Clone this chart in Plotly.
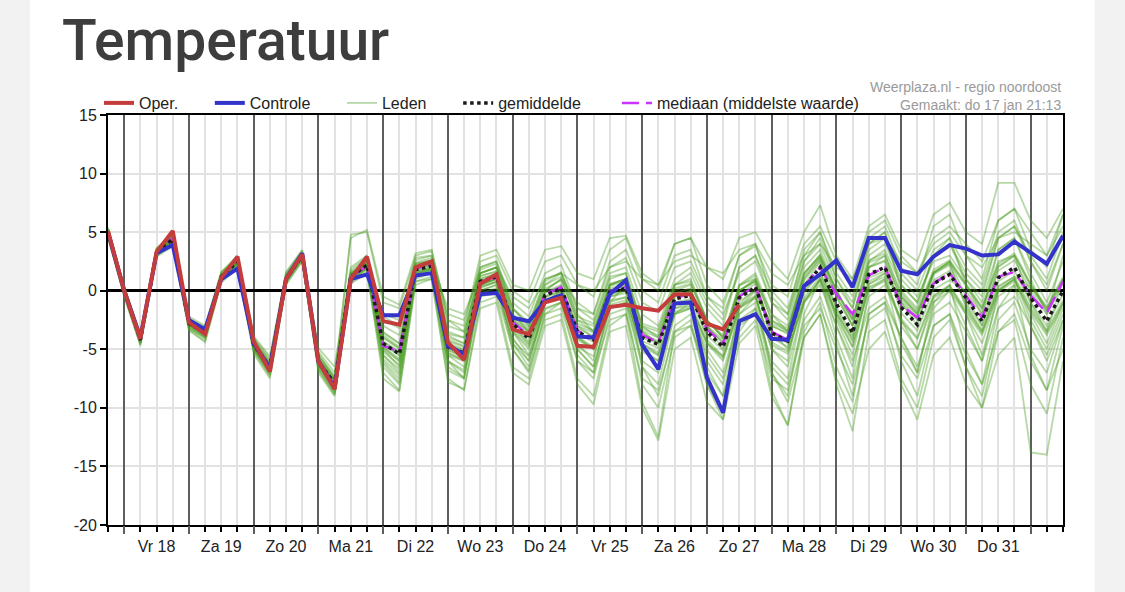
import plotly.graph_objects as go
import pandas as pd

# ---------------- data ----------------
times = pd.date_range("2019-01-17 18:00", periods=60, freq="6h")
x_start = "2019-01-17 18:00"
x_end = "2019-02-01 12:00"

day_ticks = ["2019-01-18 12:00", "2019-01-19 12:00", "2019-01-20 12:00", "2019-01-21 12:00",
             "2019-01-22 12:00", "2019-01-23 12:00", "2019-01-24 12:00", "2019-01-25 12:00",
             "2019-01-26 12:00", "2019-01-27 12:00", "2019-01-28 12:00", "2019-01-29 12:00",
             "2019-01-30 12:00", "2019-01-31 12:00"]
day_labels = ["Vr 18", "Za 19", "Zo 20", "Ma 21", "Di 22", "Wo 23", "Do 24",
              "Vr 25", "Za 26", "Zo 27", "Ma 28", "Di 29", "Wo 30", "Do 31"]

y_ticks = [-20, -15, -10, -5, 0, 5, 10, 15]
y_labels = ["-20", "-15", "-10", "-5", "0", "5", "10", "15"]

oper = [5.1, 0.0, -4.1, 3.3, 5.1, -2.7, -3.7, 1.1, 2.9, -4.3, -6.9, 1.0, 3.1, -6.0, -8.4, 1.0,
        2.9, -2.6, -2.9, 2.0, 2.5, -4.4, -5.9, 0.6, 1.4, -3.3, -3.7, -1.0, -0.6, -4.7, -4.8,
        -1.4, -1.2, -1.5, -1.7, -0.3, -0.3, -2.8, -3.3, -1.2]

controle = [5.0, 0.0, -4.0, 3.2, 3.9, -2.5, -3.3, 1.0, 1.9, -4.5, -6.6, 1.0, 3.2, -6.0, -8.3, 1.0,
            1.4, -2.1, -2.1, 1.3, 1.5, -4.7, -5.4, -0.3, -0.2, -2.3, -2.6, -0.9, -0.4, -3.9, -4.0,
            -0.3, 0.9, -4.6, -6.7, -1.1, -1.0, -7.4, -10.4, -2.6, -2.0, -4.1, -4.2, 0.4, 1.4, 2.6,
            0.3, 4.5, 4.5, 1.7, 1.4, 2.9, 3.9, 3.6, 3.0, 3.1, 4.2, 3.3, 2.3, 4.7]

gemiddelde = [5.0, 0.0, -4.2, 3.3, 4.4, -2.8, -3.6, 1.2, 2.5, -4.6, -6.5, 1.0, 3.0, -6.1, -7.9, 1.2,
              2.2, -4.5, -5.4, 1.8, 2.1, -4.8, -5.3, 0.8, 1.2, -2.8, -4.1, -0.4, 0.2, -3.5, -4.2,
              -0.1, 0.2, -4.0, -4.6, -0.7, -0.4, -3.5, -4.8, -0.6, 0.3, -3.6, -4.3, 0.3, 2.0, -1.1,
              -3.6, 1.4, 2.0, -1.4, -2.9, 0.6, 1.4, -0.6, -2.6, 1.1, 2.0, -0.6, -2.6, 0.0]

mediaan = [5.0, 0.0, -4.2, 3.3, 4.5, -2.8, -3.6, 1.2, 2.6, -4.6, -6.6, 1.0, 3.0, -6.2, -8.0, 1.2,
           2.1, -4.7, -5.2, 1.9, 2.2, -4.9, -5.4, 0.8, 1.1, -2.7, -3.8, -0.3, 0.3, -3.4, -4.1,
           0.0, 0.3, -3.8, -4.4, -0.6, -0.3, -3.3, -4.5, -0.5, 0.4, -3.5, -4.2, 0.4, 2.0, -0.3,
           -2.0, 1.3, 2.0, -1.2, -2.3, 0.6, 1.5, -0.4, -2.3, 1.2, 1.6, -0.4, -1.9, 0.8]

leden = [
    [5.2, 0.3, -3.8, 3.6, 4.8, -2.5, -3.2, 1.5, 2.9, -4.1, -6.0, 1.4, 3.3, -5.4, -7.4, 1.6, 2.8,
     -2.2, -3.0, 2.6, 3.0, -3.5, -4.0, 2.0, 2.5, -1.0, -2.2, 1.5, 2.2, -1.5, -2.0, 2.0, 2.8,
     -1.0, -1.8, 2.0, 2.5, -0.5, -1.5, 3.0, 3.8, 0.5, -0.5, 4.0, 5.5, 2.5, 0.5, 5.0, 6.0,
     3.0, 1.5, 4.5, 5.5, 4.0, 2.5, 6.0, 7.0, 5.0, 3.0, 6.5],
    [4.6, -0.4, -4.6, 3.0, 3.9, -3.3, -4.3, 0.8, 2.0, -5.2, -7.3, 0.6, 2.6, -6.8, -8.9, 0.7, 1.6,
     -6.2, -7.8, 0.8, 1.2, -6.5, -7.4, -0.5, -0.2, -5.0, -6.8, -2.0, -1.5, -6.0, -7.0, -2.5, -2.0,
     -7.5, -8.5, -3.5, -3.0, -7.0, -9.0, -4.0, -2.5, -7.5, -8.5, -3.0, -1.5, -5.0, -8.0, -2.5, -1.5,
     -5.5, -7.5, -3.0, -2.0, -5.5, -8.0, -3.5, -2.0, -6.0, -8.5, -5.0],
    [5.0, 0.1, -4.0, 3.4, 4.5, -2.6, -3.4, 1.3, 2.6, -4.4, -6.4, 1.2, 3.2, -5.8, -7.7, 1.4, 2.4,
     -4.0, -5.0, 2.2, 2.6, -4.0, -4.5, 1.5, 2.0, -2.0, -3.2, 0.5, 1.2, -2.5, -3.0, 1.0, 1.5,
     -3.0, -3.5, 0.5, 1.0, -2.5, -4.0, 0.0, 0.8, -3.5, -5.0, -1.0, 0.5, -3.0, -6.0, -1.5, -0.5,
     -4.0, -6.5, -2.0, -1.0, -3.5, -6.0, -1.5, -0.5, -3.0, -5.5, -2.0],
    [4.8, -0.2, -4.5, 3.1, 4.1, -3.2, -4.0, 1.0, 2.3, -5.0, -7.0, 0.9, 2.8, -6.5, -8.6, 1.0, 2.0,
     -5.5, -7.0, 1.5, 1.8, -6.0, -7.5, 0.5, 1.0, -4.0, -6.0, -1.0, 0.0, -5.5, -7.0, -1.0, 0.5,
     -6.5, -8.0, -2.0, -1.0, -6.0, -8.0, -1.5, 0.0, -7.0, -9.0, -2.0, 1.0, -4.0, -7.5, 0.0, 1.0,
     -4.5, -7.0, -1.0, 0.5, -5.0, -8.0, -1.5, 0.5, -5.5, -8.5, -3.0],
    [5.3, 0.2, -3.9, 3.5, 4.6, -2.7, -3.5, 1.4, 2.7, -4.3, -6.2, 1.2, 3.1, -5.6, -7.5, 1.5, 2.6,
     -3.0, -3.8, 2.4, 2.8, -3.0, -3.5, 2.5, 3.0, 0.0, -1.0, 2.5, 3.0, 0.5, -0.5, 3.5, 4.5,
     1.0, 0.0, 4.0, 4.5, 2.0, 1.0, 4.5, 5.0, 2.5, 1.0, 5.0, 7.3, 3.0, 1.0, 5.5, 6.5,
     3.5, 2.5, 6.5, 7.5, 5.0, 4.0, 9.2, 9.2, 6.0, 4.5, 7.0],
    [4.7, -0.3, -4.4, 3.2, 4.0, -3.0, -3.9, 1.1, 2.4, -4.9, -6.9, 0.8, 2.9, -6.3, -8.4, 1.1, 2.1,
     -5.8, -7.2, 1.0, 1.5, -5.5, -6.5, 0.0, 0.5, -4.5, -6.0, -1.5, -1.0, -6.0, -7.5, -2.0, -1.5,
     -8.0, -10.0, -4.0, -3.0, -8.0, -10.5, -3.5, -1.5, -6.0, -7.5, -1.0, 1.0, -2.0, -4.0, 2.5, 3.5,
     0.5, -1.0, 3.0, 4.0, 1.5, 0.0, 4.5, 5.5, 2.5, 0.5, 4.0],
    [5.1, 0.0, -4.1, 3.3, 4.4, -2.8, -3.7, 1.2, 2.5, -4.7, -6.6, 1.1, 3.0, -5.9, -7.8, 4.8, 5.0,
     -1.0, -1.5, 2.8, 3.0, -2.0, -2.5, 2.0, 2.5, -1.5, -3.0, 0.5, 1.5, -2.0, -3.5, 0.5, 1.0,
     -3.5, -4.5, -0.5, 0.0, -3.0, -5.0, 0.5, 1.0, -2.0, -3.0, 2.0, 3.5, 0.0, -2.5, 3.0, 4.0,
     1.0, -0.5, 2.5, 3.0, 1.0, -1.0, 3.5, 4.5, 1.5, -1.0, 2.5],
    [4.9, -0.1, -4.3, 3.2, 4.2, -2.9, -3.7, 1.1, 2.4, -4.6, -6.7, 0.9, 2.9, -6.1, -8.1, 1.1, 2.1,
     -4.8, -6.0, 1.6, 2.0, -5.0, -5.8, 0.5, 1.0, -3.0, -4.5, -0.5, 0.0, -4.0, -5.0, -1.0, -0.5,
     -5.0, -6.0, -2.0, -1.5, -5.5, -7.5, -2.5, -1.5, -7.0, -9.5, -4.0, -2.0, -7.5, -10.5, -5.0, -3.5,
     -8.0, -11.0, -5.5, -4.0, -8.0, -10.0, -5.5, -4.0, -13.8, -14.0, -6.0],
    [5.2, 0.4, -3.7, 3.5, 4.7, -2.2, -3.0, 1.6, 2.8, -3.9, -5.6, 1.5, 3.4, -4.9, -6.5, 1.8, 2.9,
     -2.0, -2.5, 2.0, 2.3, -1.5, -2.0, 1.5, 2.0, -0.5, -1.5, 1.0, 1.5, 0.5, 0.0, 2.0, 2.5,
     1.0, 0.5, 2.5, 3.0, 2.0, 1.5, 3.5, 4.0, 1.5, 0.5, 3.0, 4.0, 2.0, 1.0, 4.0, 4.5,
     2.5, 1.5, 4.0, 5.0, 3.0, 2.0, 4.5, 5.0, 4.0, 3.0, 5.5],
    [4.5, -0.5, -4.7, 2.9, 3.8, -3.4, -4.4, 0.7, 1.9, -5.4, -7.5, 0.5, 2.5, -7.0, -9.0, 0.6, 1.5,
     -7.0, -8.5, 0.5, 1.0, -7.5, -8.5, -1.0, -0.5, -6.5, -7.5, -2.5, -2.0, -7.5, -9.0, -3.0, -2.0,
     -9.5, -12.5, -3.5, -2.5, -8.0, -11.0, -3.0, -2.0, -8.5, -11.5, -3.5, -1.0, -6.5, -9.5, -2.0, -1.0,
     -4.0, -7.0, -1.5, 0.0, -3.0, -6.0, 0.0, 1.0, -2.0, -4.5, -1.0],
    [5.0, 0.0, -4.2, 3.3, 4.3, -2.8, -3.6, 1.2, 2.5, -4.5, -6.5, 1.0, 3.0, -6.0, -8.0, 1.2, 2.3,
     -4.5, -5.5, 1.8, 2.1, -4.8, -5.3, 0.8, 1.2, -2.5, -4.0, -0.5, 0.3, -3.0, -4.0, 0.0, 0.5,
     -3.5, -4.5, -0.5, 0.0, -3.0, -4.5, 0.0, 1.0, -2.5, -3.5, 1.5, 3.0, 0.0, -3.0, 2.0, 2.5,
     -0.5, -2.0, 1.5, 2.5, 0.5, -1.5, 2.5, 3.0, 0.5, -1.5, 1.0],
    [4.8, -0.2, -4.4, 3.2, 4.2, -3.0, -3.9, 1.0, 2.2, -5.0, -7.2, 0.8, 2.8, -6.6, -8.7, 0.9, 1.9,
     -6.5, -8.0, 1.2, 1.6, -6.8, -7.5, 0.2, 0.8, -4.5, -6.5, -1.0, 0.0, -4.5, -6.0, 0.5, 1.0,
     -4.0, -4.5, 0.5, 1.5, -1.5, -3.0, 2.0, 3.0, -1.0, -2.0, 3.5, 5.0, 1.0, -1.5, 4.0, 5.0,
     1.5, 0.0, 3.5, 4.5, 2.0, 0.5, 5.0, 6.0, 2.5, 0.0, 4.0],
    [5.4, 0.3, -3.8, 3.6, 4.9, -2.4, -3.1, 1.6, 3.0, -4.0, -5.8, 1.6, 3.5, -5.2, -7.0, 2.0, 3.0,
     -2.5, -3.2, 3.0, 3.4, -2.5, -3.0, 3.0, 3.5, 0.5, 0.0, 3.5, 3.8, 1.5, 1.0, 4.5, 4.7,
     1.5, 0.5, 4.0, 4.5, 0.5, -1.0, 3.0, 4.0, -0.5, -2.0, 2.5, 4.0, 0.5, -1.5, 3.5, 4.5,
     0.5, -1.0, 3.0, 4.0, 1.0, -0.5, 4.5, 5.5, 3.0, 1.0, 5.0],
    [4.7, -0.2, -4.3, 3.1, 4.0, -3.1, -4.0, 0.9, 2.2, -4.9, -6.9, 0.8, 2.7, -6.4, -8.4, 1.0, 2.0,
     -5.0, -6.5, 1.4, 1.8, -5.5, -6.0, 0.5, 1.0, -3.5, -5.5, -1.0, -0.5, -5.0, -6.5, -1.5, -1.0,
     -6.0, -7.0, -2.0, -1.5, -5.0, -7.0, -2.0, -1.0, -6.5, -8.0, -2.5, -0.5, -4.5, -9.0, -2.0, -1.0,
     -6.0, -9.0, -3.0, -2.0, -6.5, -10.0, -3.5, -2.5, -8.0, -10.5, -4.0],
    [5.1, 0.1, -4.0, 3.4, 4.5, -2.6, -3.4, 1.3, 2.6, -4.3, -6.3, 1.3, 3.2, -5.7, -7.6, 1.4, 2.5,
     -3.5, -4.5, 2.3, 2.6, -3.8, -4.5, 1.5, 2.0, -1.5, -3.0, 1.0, 1.5, -1.5, -2.5, 1.5, 2.0,
     -2.0, -3.0, 1.0, 2.0, -1.0, -2.5, 2.0, 3.0, 0.0, -1.5, 3.0, 5.0, 1.5, -0.5, 4.5, 5.5,
     2.0, 0.5, 5.5, 6.5, 3.0, 1.0, 6.0, 7.0, 3.5, 2.0, 6.5],
    [4.9, 0.0, -4.2, 3.3, 4.3, -2.9, -3.8, 1.1, 2.4, -4.8, -6.8, 1.0, 2.9, -6.2, -8.3, 1.1, 2.2,
     -6.0, -7.5, 1.3, 1.7, -6.0, -7.0, 0.0, 0.5, -5.0, -7.0, -2.0, -1.0, -5.0, -6.5, -1.5, -1.0,
     -6.5, -9.0, -3.0, -2.0, -6.5, -9.0, -2.0, -0.5, -5.0, -6.0, 0.5, 2.5, -2.5, -5.5, 0.5, 1.5,
     -3.0, -5.0, -0.5, 0.5, -2.0, -4.5, 0.0, 1.0, -2.5, -5.0, -1.5],
    [4.6, -0.4, -4.5, 3.0, 4.0, -3.2, -4.1, 0.9, 2.1, -5.1, -7.1, 0.7, 2.7, -6.7, -8.8, 0.8, 1.8,
     -7.5, -8.6, 0.8, 1.0, -7.8, -8.4, -1.5, -1.0, -7.0, -8.0, -3.0, -2.5, -8.0, -9.7, -3.5, -3.0,
     -10.0, -12.8, -5.0, -4.0, -9.5, -11.0, -4.5, -3.0, -9.0, -11.5, -4.0, -2.0, -8.0, -12.0, -3.5, -2.5,
     -7.5, -10.0, -4.0, -2.5, -6.5, -9.0, -2.5, -1.0, -5.0, -7.0, -2.5],
    [5.0, 0.1, -4.1, 3.4, 4.4, -2.7, -3.5, 1.3, 2.6, -4.5, -6.5, 1.1, 3.1, -5.9, -7.9, 1.3, 2.4,
     -3.8, -4.8, 2.0, 2.4, -4.5, -5.0, 1.0, 1.5, -2.5, -3.5, 0.0, 1.0, -2.5, -3.5, 0.5, 1.0,
     -3.0, -4.0, 0.0, 0.5, -2.5, -4.0, 0.5, 1.5, -2.0, -3.5, 1.5, 3.0, -0.5, -3.0, 2.0, 3.0,
     -1.0, -3.0, 1.5, 2.5, -0.5, -3.0, 2.0, 3.0, -1.0, -3.5, 1.0],
    [4.8, -0.1, -4.3, 3.2, 4.2, -2.9, -3.8, 1.1, 2.4, -4.7, -6.8, 0.9, 2.9, -6.2, -8.2, 1.1, 2.1,
     -5.2, -6.3, 1.5, 1.9, -5.3, -6.0, 0.3, 0.8, -3.5, -5.0, -1.0, -0.5, -4.0, -5.0, -0.5, 0.0,
     -4.5, -5.5, -1.5, -1.0, -4.5, -6.0, -1.5, -0.5, -5.0, -6.5, -1.0, 1.0, -3.0, -6.5, -0.5, 0.5,
     -2.5, -5.0, -1.0, 0.0, -2.0, -5.5, -0.5, 0.5, -3.0, -6.0, -2.5],
    [5.3, 0.2, -3.9, 3.6, 4.7, -2.5, -3.3, 1.4, 2.8, -4.2, -6.1, 1.3, 3.2, -5.5, -7.3, 4.5, 5.2,
     -0.5, -1.2, 3.2, 3.5, -2.5, -3.5, 1.5, 2.0, -2.0, -3.5, 0.0, 1.0, -1.0, -2.0, 2.5, 3.5,
     0.0, -1.0, 3.0, 3.5, -0.5, -2.0, 1.5, 2.5, -1.0, -2.5, 2.5, 4.5, 1.0, -1.0, 4.0, 5.0,
     0.0, -1.5, 3.0, 4.5, 0.5, -2.0, 3.5, 4.5, 1.0, -2.0, 3.0],
    [5.1, 0.1, -4.1, 3.4, 4.5, -2.7, -3.5, 1.3, 2.6, -4.4, -6.3, 1.1, 3.1, -5.9, -7.7, 1.4, 2.4,
     -4.0, -4.9, 2.1, 2.4, -4.3, -4.8, 1.2, 1.7, -2.2, -3.4, 0.2, 0.9, -2.8, -3.4, 0.6, 1.0,
     -3.2, -3.8, 0.2, 0.6, -2.6, -3.8, 0.4, 1.3, -2.6, -3.2, 1.4, 3.1, 0.0, -2.4, 2.6, 3.2,
     -0.2, -1.7, 1.8, 2.6, 0.6, -1.4, 2.3, 3.2, 0.6, -1.4, 1.2],
    [4.9, -0.1, -4.3, 3.2, 4.3, -2.9, -3.7, 1.1, 2.4, -4.8, -6.7, 0.9, 2.9, -6.3, -8.2, 1.0, 2.0,
     -5.0, -6.0, 1.5, 1.8, -5.3, -5.9, 0.4, 0.7, -3.4, -4.8, -1.0, -0.5, -4.2, -5.0, -0.8, -0.6,
     -4.8, -5.5, -1.5, -1.3, -4.4, -5.8, -1.5, -0.6, -4.6, -5.4, -0.8, 0.9, -2.3, -4.8, 0.2, 0.8,
     -2.6, -4.1, -0.6, 0.2, -1.8, -3.8, -0.1, 0.8, -1.8, -3.8, -1.2],
    [5.0, 0.0, -4.2, 3.3, 4.4, -2.8, -3.6, 1.3, 2.6, -4.5, -6.4, 1.1, 3.1, -5.8, -7.6, 1.5, 2.5,
     -3.6, -4.5, 2.3, 2.6, -3.7, -4.0, 1.8, 2.3, -1.5, -2.7, 0.8, 1.6, -2.2, -2.8, 1.2, 1.5,
     -2.8, -3.3, 0.5, 0.8, -2.5, -4.0, 0.0, 0.8, -3.5, -4.5, 0.0, 1.5, -2.0, -4.8, 0.3, 1.0,
     -2.4, -4.0, -0.4, 0.4, -1.6, -3.6, 0.1, 1.0, -1.6, -3.6, -1.0],
    [5.0, 0.0, -4.2, 3.2, 4.3, -2.9, -3.7, 1.1, 2.4, -4.7, -6.7, 0.9, 2.9, -6.4, -8.3, 0.9, 1.9,
     -5.5, -6.7, 1.2, 1.5, -6.0, -6.8, -0.2, 0.2, -4.2, -5.6, -1.6, -1.0, -4.8, -5.6, -1.2, -0.8,
     -5.2, -6.0, -1.8, -1.4, -4.5, -5.6, -1.2, 0.2, -3.0, -3.6, 1.0, 2.8, 0.0, -2.5, 2.4, 3.0,
     -0.4, -1.9, 1.6, 2.4, 0.4, -1.6, 2.1, 3.0, 0.4, -1.6, 1.0],
    [5.0, 0.0, -4.2, 3.3, 4.4, -2.8, -3.6, 1.2, 2.5, -4.6, -6.6, 1.0, 3.0, -6.1, -8.0, 1.2, 2.2,
     -4.3, -5.2, 1.9, 2.2, -4.6, -5.1, 1.0, 1.4, -3.2, -4.6, -0.8, -0.2, -3.0, -3.6, 0.4, 0.8,
     -4.5, -5.3, -1.2, -0.8, -3.0, -4.2, 0.0, 0.9, -4.4, -5.2, -0.6, 1.2, -1.8, -4.4, 0.8, 1.5,
     -0.6, -2.0, 1.5, 2.3, -1.4, -3.5, 0.3, 1.2, 0.3, -1.7, 0.8],
    [4.9, -0.1, -4.2, 3.3, 4.4, -2.7, -3.5, 1.2, 2.5, -4.5, -6.5, 1.0, 3.0, -6.0, -7.9, 1.3, 2.3,
     -4.8, -5.8, 1.6, 1.9, -4.2, -4.7, 1.3, 1.6, -2.4, -3.6, -0.1, 0.5, -3.9, -4.8, -0.5, -0.2,
     -3.4, -4.0, -0.2, 0.2, -4.2, -5.6, -1.3, -0.4, -2.8, -3.4, 1.2, 2.8, -1.6, -4.2, 0.6, 1.2,
     -0.8, -2.2, 1.4, 2.2, -1.2, -3.4, 0.4, 1.2, -1.4, -3.4, -0.8],
    [5.1, 0.0, -4.2, 3.4, 4.5, -2.8, -3.6, 1.2, 2.6, -4.7, -6.6, 1.0, 3.0, -6.2, -8.0, 1.1, 2.1,
     -4.4, -5.3, 1.9, 2.2, -5.1, -5.6, 0.6, 1.0, -2.6, -3.9, -0.6, 0.0, -3.2, -3.9, 0.2, 0.5,
     -4.3, -4.9, -1.0, -0.7, -3.8, -5.1, -0.9, 0.0, -3.0, -3.7, 0.9, 2.6, -0.5, -3.0, 2.0, 2.6,
     -1.9, -3.4, 0.1, 0.9, 0.0, -2.0, 1.7, 2.6, 0.0, -2.0, 0.6],
    [5.0, 0.1, -4.1, 3.3, 4.4, -2.8, -3.6, 1.2, 2.5, -4.6, -6.5, 1.0, 3.0, -6.0, -7.8, 1.2, 2.2,
     -4.6, -5.5, 1.7, 2.0, -4.9, -5.4, 0.7, 1.1, -3.0, -4.3, -0.2, 0.4, -3.6, -4.4, -0.3, 0.0,
     -3.7, -4.3, -0.5, -0.1, -3.2, -4.4, -0.3, 0.6, -4.0, -4.8, -0.2, 1.5, -1.4, -3.8, 1.1, 1.7,
     -1.0, -2.5, 0.9, 1.7, -1.0, -3.0, 0.8, 1.7, -1.0, -3.0, -0.3],
]

# ---------------- figure ----------------
NB = "\u00a0" * 6
FONT = "Liberation Sans, Arial, sans-serif"

fig = go.Figure()

for i, m in enumerate(leden):
    fig.add_trace(go.Scatter(
        x=times, y=m, mode="lines", name="Leden" + NB, legendgroup="leden",
        legendrank=3, showlegend=(i == 0), hoverinfo="skip",
        line=dict(color="rgba(75,158,35,0.40)", width=1.8)))

fig.add_trace(go.Scatter(x=times, y=mediaan, mode="lines", name="mediaan (middelste waarde)",
                         legendrank=5, line=dict(color="#cc33ff", width=2.5, dash="17px,7px")))
fig.add_trace(go.Scatter(x=times, y=gemiddelde, mode="lines", name="gemiddelde" + NB + "\u00a0",
                         legendrank=4, line=dict(color="#1a1a1a", width=3.5, dash="dot")))
fig.add_trace(go.Scatter(x=times, y=controle, mode="lines", name="Controle" + NB,
                         legendrank=2, line=dict(color="#3333cc", width=4)))
fig.add_trace(go.Scatter(x=times[:len(oper)], y=oper, mode="lines", name="Oper." + NB,
                         legendrank=1, line=dict(color="#c43c3c", width=4)))
# helper trace for the day-boundary overlay axis (draws nothing)
fig.add_trace(go.Scatter(x=[], y=[], xaxis="x2", showlegend=False, hoverinfo="skip"))

L, R, T, B = 108, 1063.5, 115, 525
W, H = R - L, B - T


def px(xp):
    return (xp - L) / W


def py(yp):
    return (B - yp) / H


fig.update_layout(
    width=1125, height=592,
    margin=dict(l=L, r=1125 - R, t=T, b=592 - B, pad=0),
    paper_bgcolor="#f2f2f2", plot_bgcolor="white",
    showlegend=True,
    legend=dict(orientation="h", x=px(99), y=py(103), xanchor="left", yanchor="middle",
                font=dict(size=16, family=FONT, color="#222"), bgcolor="rgba(0,0,0,0)",
                itemwidth=30, traceorder="normal"),
    xaxis=dict(type="date", range=[x_start, x_end], tickmode="array", tickvals=day_ticks,
               ticktext=day_labels,
               ticks="outside", ticklen=5, tickwidth=1.5, tickcolor="black",
               ticklabelstandoff=1,
               showgrid=False, zeroline=False, showline=True, linecolor="black", linewidth=2,
               mirror=True, tickfont=dict(size=16, family=FONT, color="#222"),
               minor=dict(dtick=6 * 3600 * 1000, tick0=x_start, ticks="outside", ticklen=5,
                          tickwidth=1.5, tickcolor="black",
                          showgrid=True, gridcolor="#e2e2e2", gridwidth=1.8)),
    xaxis2=dict(type="date", overlaying="x", anchor="y", range=[x_start, x_end], tickmode="linear",
                tick0="2019-01-18 00:00", dtick=86400000, showgrid=True, gridcolor="#5e5e5e",
                gridwidth=1.5, ticks="outside", ticklen=8, tickwidth=1.5, tickcolor="#5e5e5e",
                showticklabels=False, zeroline=False, showline=False, side="bottom"),
    yaxis=dict(range=[-20, 15], tickmode="array", tickvals=y_ticks, ticktext=y_labels,
               ticks="outside", ticklen=6, tickwidth=1.5, tickcolor="black",
               showgrid=True, gridcolor="#e2e2e2", gridwidth=1.8,
               zeroline=True, zerolinecolor="black", zerolinewidth=3,
               showline=True, linecolor="black", linewidth=2, mirror=True,
               tickfont=dict(size=16, family=FONT, color="#222")),
    shapes=[dict(type="rect", xref="paper", yref="paper", x0=px(30), x1=px(1095),
                 y0=py(600), y1=py(-10), fillcolor="white", line=dict(width=0), layer="below")],
    annotations=[
        dict(text="Temperatuur", xref="paper", yref="paper", x=px(60), y=py(40),
             xanchor="left", yanchor="middle", showarrow=False,
             font=dict(size=57, family="Roboto, sans-serif", color="#3d3d3d", weight=500)),
        dict(text="Weerplaza.nl - regio noordoost<br>Gemaakt: do 17 jan 21:13", xref="paper",
             yref="paper", x=px(1064), y=py(96), xanchor="right", yanchor="middle", align="right",
             showarrow=False, font=dict(size=14, family=FONT, color="#9a9a9a")),
    ],
)

fig.write_html("out.html", include_plotlyjs=True, full_html=True,
               config={"displayModeBar": False},
               post_script="document.body.style.margin='0px';document.body.style.overflow='hidden';")
